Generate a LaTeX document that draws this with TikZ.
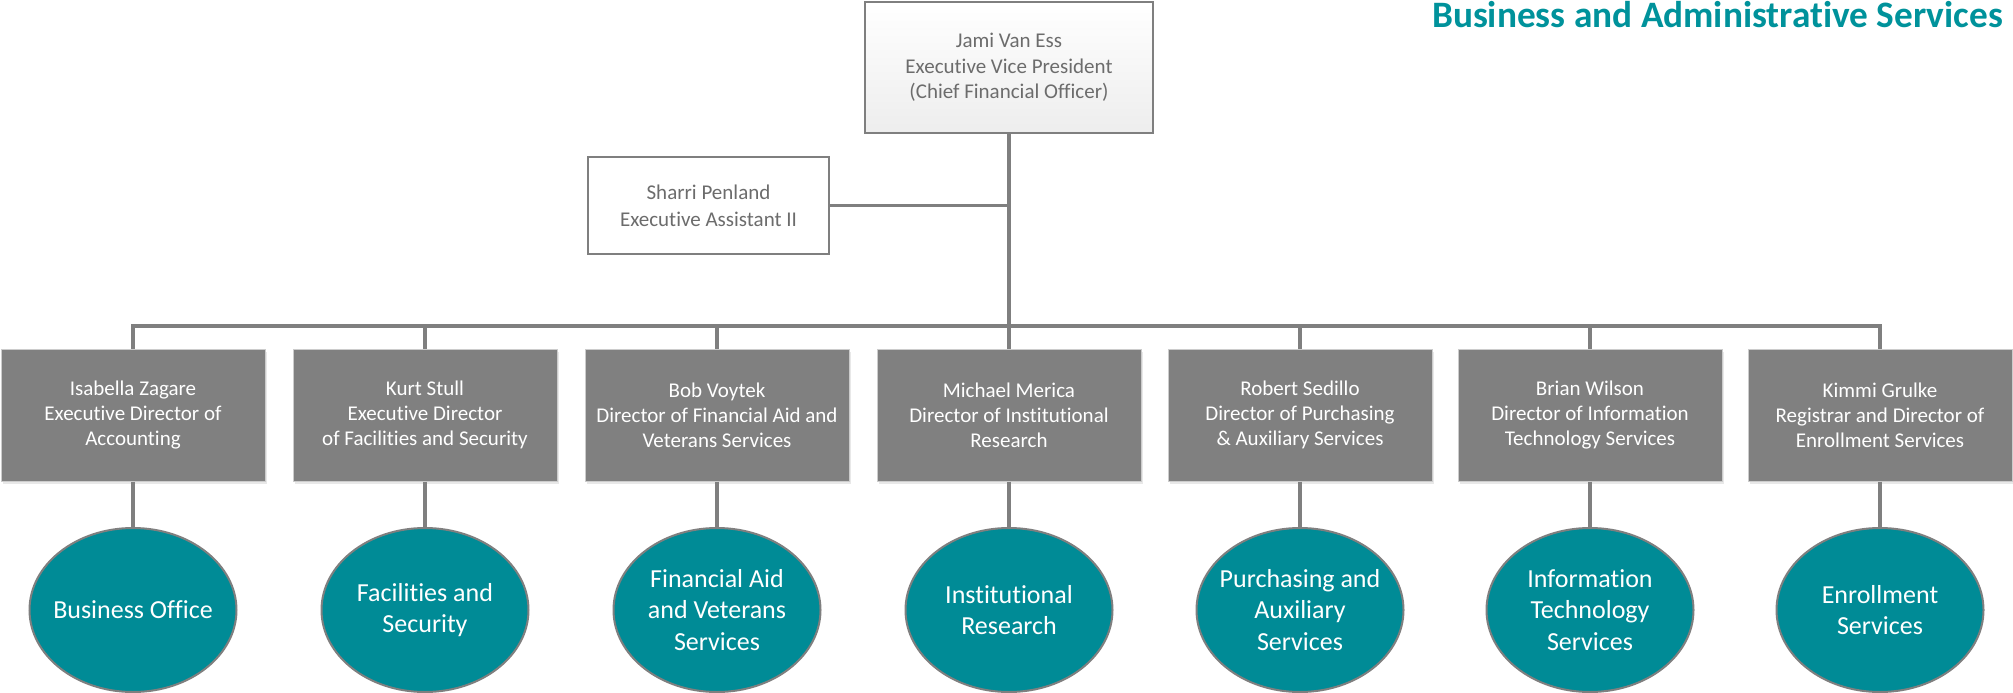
\documentclass[tikz,border=0pt]{standalone}
\usepackage{fontspec}
\setmainfont{Carlito}[Ligatures=NoCommon]
\usetikzlibrary{shapes.geometric, positioning, calc, shadows}
\definecolor{linegray}{RGB}{127,127,127}
\definecolor{namegray}{RGB}{108,108,108}
\definecolor{boxgray}{RGB}{128,128,128}
\definecolor{unitteal}{RGB}{0,139,150}
\definecolor{titleteal}{RGB}{0,146,155}

\tikzset{
    headbox/.style={rectangle, draw=linegray, line width=2.5pt, top color=white, bottom color=black!7,
        minimum width=288pt, minimum height=131pt, align=center, text=namegray,
        font=\fontsize{21}{25.5}\selectfont},
    assistbox/.style={rectangle, draw=linegray, line width=2pt, fill=white,
        minimum width=241pt, minimum height=97pt, align=center, text=namegray,
        font=\fontsize{21}{27}\selectfont},
    dirbox/.style={rectangle, draw=black!20, line width=1pt, fill=boxgray,
        drop shadow={opacity=0.18, shadow xshift=2pt, shadow yshift=-3pt},
        minimum width=264pt, minimum height=132pt, align=center, text=white,
        font=\fontsize{21}{25}\selectfont},
    unitoval/.style={ellipse, draw=linegray, line width=2pt, fill=unitteal,
        minimum width=207pt, minimum height=164pt, inner xsep=-40pt, inner ysep=-30pt,
        align=center, text=white, font=\fontsize{26}{31.5}\selectfont},
    conn/.style={draw=linegray, line width=3.5pt}
}

\begin{document}
\begin{tikzpicture}[x=1pt, y=-1pt]
\useasboundingbox (0,0) rectangle (2013,693);

% Title
\node[anchor=base east, text=titleteal, inner sep=0pt, font=\fontsize{37.3}{40}\selectfont\bfseries]
    (title) at (2003, 28) {Business and Administrative Services};

% Vice president and assistant
\node[headbox] (evp) at (1009, 67.5) {Jami Van Ess\\Executive Vice President\\(Chief Financial Officer)};
\node[assistbox] (assist) at (708.5, 205.5) {Sharri Penland\\Executive Assistant II};

% Directors and their units
\foreach \i/\x/\who/\unit in {
    1/133/{Isabella Zagare\\Executive Director of\\Accounting}/{Business Office},
    2/425/{Kurt Stull\\Executive Director\\of Facilities and Security}/{Facilities and\\Security},
    3/717/{Bob Voytek\\Director of Financial Aid and\\Veterans Services}/{Financial Aid\\and Veterans\\Services},
    4/1009/{Michael Merica\\Director of Institutional\\Research}/{Institutional\\Research},
    5/1300/{Robert Sedillo\\Director of Purchasing\\\& Auxiliary Services}/{Purchasing and\\Auxiliary\\Services},
    6/1590/{Brian Wilson\\Director of Information\\Technology Services}/{Information\\Technology\\Services},
    7/1880/{Kimmi Grulke\\Registrar and Director of\\Enrollment Services}/{Enrollment\\Services}} {
    \node[dirbox] (dir\i) at (\x, 415) {\who};
    \node[unitoval] (unit\i) at (\x, 610) {\unit};
}

% Connections
\coordinate (bus) at (1009, 326);
\draw[conn] (evp.south) -- (evp.south |- bus);
\draw[conn] (assist.east) -- (assist.east -| evp.south);
\draw[conn] (dir1.north) -- (dir1.north |- bus) -- (dir7.north |- bus) -- (dir7.north);
\foreach \i in {2,3,4,5,6} {
    \draw[conn] (dir\i.north |- bus) -- (dir\i.north);
}
\foreach \i in {1,2,3,4,5,6,7} {
    \draw[conn] (dir\i.south) -- (unit\i.north);
}
\end{tikzpicture}
\end{document}
